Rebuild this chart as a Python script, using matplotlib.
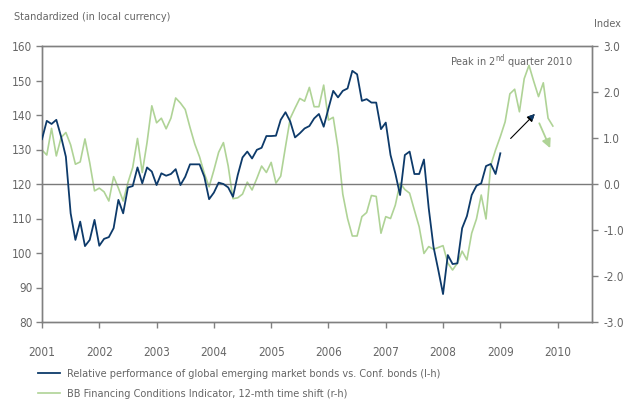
import matplotlib
matplotlib.use('Agg')
import matplotlib.pyplot as plt
import numpy as np

plt.rcParams['font.family'] = ['DejaVu Sans']
plt.rcParams['font.stretch'] = 'condensed'

# monthly values starting January 2001
bonds = [133.0, 138.3, 137.4, 138.6, 133.7, 127.9, 111.5, 103.8, 109.1, 102.0, 103.8, 109.6,
         102.1, 104.1, 104.6, 107.2, 115.4, 111.5, 119.0, 119.4, 124.8, 120.2, 124.8, 123.6,
         119.7, 123.1, 122.4, 122.9, 124.3, 119.7, 122.1, 125.7, 125.7, 125.7, 122.1, 115.6,
         117.5, 120.4, 120.0, 119.0, 116.3, 122.6, 127.7, 129.4, 127.4, 129.9, 130.5, 133.9,
         133.9, 134.0, 138.6, 140.8, 138.1, 133.5, 134.7, 136.1, 136.8, 139.0, 140.3, 136.6,
         141.9, 147.0, 145.1, 147.0, 147.7, 152.8, 151.8, 144.1, 144.6, 143.6, 143.6, 135.9,
         137.8, 128.4, 123.1, 116.8, 128.4, 129.4, 122.9, 122.9, 127.1, 113.0, 101.8, 95.1,
         88.1, 99.4, 96.8, 97.0, 107.2, 110.7, 116.8, 119.5, 120.2, 125.2, 125.8, 122.9,
         128.9]

bb_fci = [0.74, 0.63, 1.21, 0.61, 1.01, 1.12, 0.85, 0.43, 0.48, 0.98, 0.46, -0.15,
          -0.09, -0.17, -0.37, 0.16, -0.09, -0.37, 0.03, 0.36, 0.99, 0.25, 0.90, 1.70,
          1.33, 1.43, 1.20, 1.43, 1.87, 1.76, 1.62, 1.23, 0.87, 0.59, 0.23, -0.06,
          0.30, 0.69, 0.90, 0.39, -0.32, -0.30, -0.22, 0.04, -0.13, 0.12, 0.39, 0.25,
          0.47, 0.02, 0.17, 0.81, 1.43, 1.65, 1.86, 1.80, 2.10, 1.68, 1.68, 2.15,
          1.39, 1.45, 0.78, -0.22, -0.75, -1.13, -1.13, -0.71, -0.62, -0.25, -0.27, -1.07,
          -0.71, -0.75, -0.46, 0.02, -0.12, -0.20, -0.57, -0.93, -1.51, -1.36, -1.42, -1.38,
          -1.34, -1.72, -1.87, -1.72, -1.46, -1.65, -1.07, -0.76, -0.24, -0.76, 0.41, 0.74,
          1.03, 1.35, 1.96, 2.06, 1.57, 2.29, 2.58, 2.23, 1.90, 2.20, 1.43, 1.26]

years = list(range(2001, 2011))
left_ticks = [80, 90, 100, 110, 120, 130, 140, 150, 160]
right_ticks = [-3.0, -2.0, -1.0, 0.0, 1.0, 2.0, 3.0]

# arrows (year, index value)
up_arrow = [(2009.18, 0.99), (2009.60, 1.52)]
down_arrow = [(2009.68, 1.32), (2009.87, 0.78)]

navy = '#0d3a6a'
green = '#afd396'
grey = '#666666'
axis_grey = '#808080'

x_bonds = 2001 + np.arange(len(bonds)) / 12
x_fci = 2001 + np.arange(len(bb_fci)) / 12

fig = plt.figure(figsize=(6.24, 4.01), dpi=100)
ax = fig.add_axes([42 / 624, 1 - 322 / 401, 550 / 624, 276 / 401])
ax2 = ax.twinx()

ax.axhline(120, color='#7a7a7a', lw=1.0, zorder=1)
ln1, = ax.plot(x_bonds, bonds, color=navy, lw=1.3, zorder=3)
ln2, = ax2.plot(x_fci, bb_fci, color=green, lw=1.2, zorder=2)
ax.set_zorder(ax2.get_zorder() + 1)
ax.patch.set_visible(False)

ax.set_xlim(2001, 2010.6)
ax.set_ylim(80, 160)
ax2.set_ylim(-3, 3)
ax.set_xticks(years)
ax.set_yticks(left_ticks)
ax2.set_yticks(right_ticks)
ax2.set_yticklabels(['%.1f' % v for v in right_ticks])

for a in (ax, ax2):
    for s in a.spines.values():
        s.set_color(axis_grey)
        s.set_linewidth(1.0)
    a.tick_params(colors=axis_grey, labelcolor=grey, labelsize=8.5, length=4, width=1)
ax.tick_params(axis='x', pad=13)
ax.tick_params(axis='y', pad=3)
ax2.tick_params(axis='y', pad=4)

ax2.annotate('', xy=up_arrow[1], xytext=up_arrow[0],
             arrowprops=dict(arrowstyle='-|>', color='black', lw=0.8,
                             mutation_scale=11, shrinkA=0, shrinkB=0))
ax2.annotate('', xy=down_arrow[1], xytext=down_arrow[0],
             arrowprops=dict(arrowstyle='-|>', color=green, lw=1.3,
                             mutation_scale=13, shrinkA=0, shrinkB=0))
# navy head on the black arrow
ax2.annotate('', xy=up_arrow[1], xytext=(2009.52, 1.42),
             arrowprops=dict(arrowstyle='-|>', color=navy, lw=0,
                             mutation_scale=11, shrinkA=0, shrinkB=0))

ax.text(0.965, 0.975, 'Peak in 2$^{\\mathregular{nd}}$ quarter 2010', transform=ax.transAxes,
        ha='right', va='top', color=grey, fontsize=7.8)

fig.text(14 / 624, 1 - 17 / 401, 'Standardized (in local currency)', color=grey,
         fontsize=7.8, va='center', ha='left')
fig.text(621 / 624, 1 - 24 / 401, 'Index', color=grey, fontsize=7.8, va='center', ha='right')

fig.legend([ln1, ln2],
           ['Relative performance of global emerging market bonds vs. Conf. bonds (l-h)',
            'BB Financing Conditions Indicator, 12-mth time shift (r-h)'],
           loc='upper left', bbox_to_anchor=(38 / 624, 1 - 369 / 401), frameon=False,
           fontsize=7.8, handlelength=2.0, handletextpad=0.7, labelspacing=0.9,
           labelcolor=grey, borderaxespad=0, borderpad=0)

fig.savefig('out.png', dpi=100)
